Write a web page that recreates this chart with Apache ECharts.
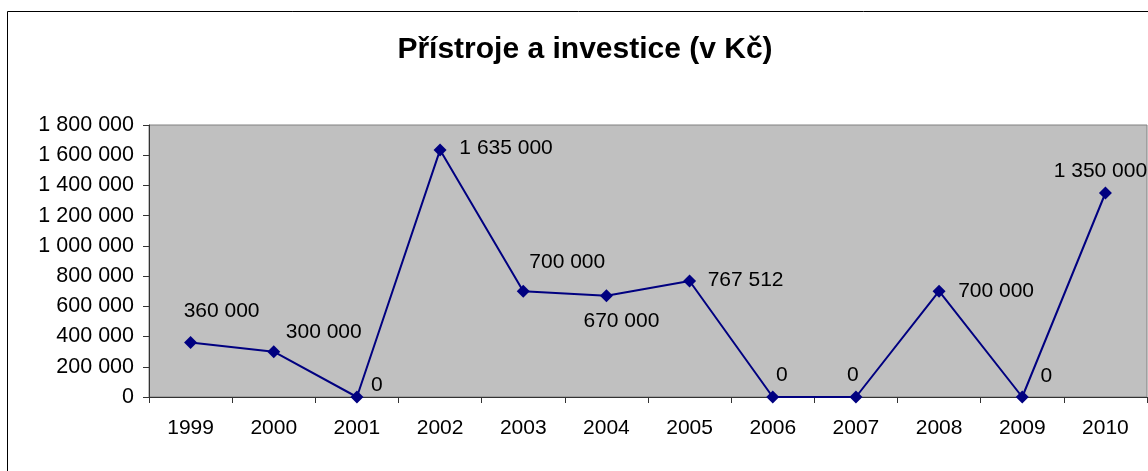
<!DOCTYPE html>
<html>
<head>
<meta charset="utf-8">
<script src="https://cdn.jsdelivr.net/npm/echarts@6/dist/echarts.min.js"></script>
<style>
html,body{margin:0;padding:0;background:#fff;}
#c{width:1148px;height:471px;}
</style>
</head>
<body>
<div id="c"></div>
<script>
var titleText = 'Přístroje a investice (v Kč)';
var categories = ['1999','2000','2001','2002','2003','2004','2005','2006','2007','2008','2009','2010'];
var values = [360000, 300000, 0, 1635000, 700000, 670000, 767512, 0, 0, 700000, 0, 1350000];
var yTicks = [0, 200000, 400000, 600000, 800000, 1000000, 1200000, 1400000, 1600000, 1800000];
// label offsets (style only): [dx, dy] from the marker
var labelOffsets = [[31,-31],[50,-19],[20,-12],[66,-2],[44,-29],[15,25],[56,-1],[9,-22],[-3,-22],[57,0],[24,-21],[-5,-22]];

function fmt(v){
  var s = String(Math.round(v));
  return s.replace(/\B(?=(\d{3})+(?!\d))/g, ' ');
}

var font = '"Liberation Sans", Arial, sans-serif';
var chart = echarts.init(document.getElementById('c'), null, {renderer:'canvas'});
var data = values.map(function(v,i){
  return {value:v, label:{offset:labelOffsets[i]}};
});
chart.setOption({
  animation:false,
  backgroundColor:'#ffffff',
  graphic:[
    {type:'rect', shape:{x:7.5, y:11.5, width:1300, height:600}, style:{fill:'none', stroke:'#000', lineWidth:1}, z:-10},
    {type:'text', x:585, y:50, style:{text:titleText, font:'bold 30px "Liberation Sans", Arial, sans-serif', fill:'#000', textAlign:'center', textVerticalAlign:'middle'}}
  ],
  grid:{left:149, top:125, right:1, bottom:74, show:true, backgroundColor:'#C0C0C0', borderColor:'#808080', borderWidth:1},
  xAxis:{
    type:'category', data:categories, boundaryGap:true,
    axisLine:{show:true, lineStyle:{color:'#333', width:1}},
    axisTick:{show:true, length:6, lineStyle:{color:'#333'}},
    axisLabel:{color:'#000', fontSize:21, fontFamily:font, margin:21}
  },
  yAxis:{
    type:'value', min:yTicks[0], max:yTicks[yTicks.length-1], interval:200000,
    axisLine:{show:true, lineStyle:{color:'#333', width:1}},
    axisTick:{show:true, length:6, lineStyle:{color:'#333'}},
    splitLine:{show:false},
    axisLabel:{color:'#000', fontSize:21.5, fontFamily:font, margin:15, formatter:function(v){return fmt(v);}}
  },
  series:[{
    type:'line', data:data,
    symbol:'diamond', symbolSize:13,
    lineStyle:{color:'#000080', width:2},
    itemStyle:{color:'#000080'},
    label:{show:true, position:'inside', color:'#000', fontSize:21, fontFamily:font, align:'center', verticalAlign:'middle', formatter:function(p){return fmt(p.value);}}
  }]
});
</script>
</body>
</html>
